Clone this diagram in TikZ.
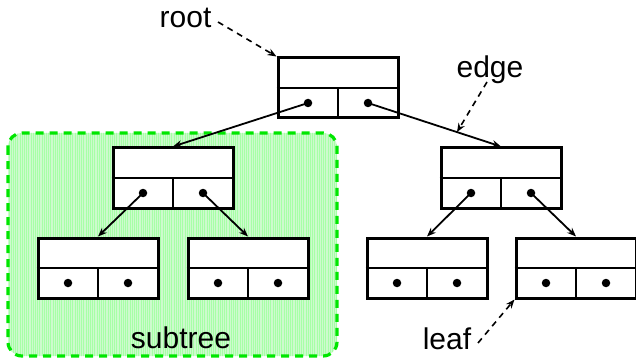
\documentclass[tikz,border=0pt]{standalone}
\usepackage{fontspec}
\setmainfont{Liberation Sans}
\usetikzlibrary{arrows.meta,patterns.meta,calc}
\definecolor{subgreen}{RGB}{0,230,0}
\definecolor{subfill}{RGB}{205,250,205}
\begin{document}
\begin{tikzpicture}[x=1pt,y=-1pt,
  cell/.style={draw,line width=3pt,minimum width=120pt,minimum height=60pt,inner sep=0pt,fill=white},
  divider/.style={line width=2pt},
  dotnode/.style={fill=black,circle,inner sep=0pt,minimum size=8.5pt},
  link/.style={line width=1.8pt,-{Stealth[length=9pt,width=7pt]}},
  callout/.style={line width=1.6pt,dash pattern=on 6pt off 5pt,-{Stealth[length=9pt,width=7pt]}},
  lbl/.style={font=\fontsize{30}{36}\selectfont,inner sep=0pt,anchor=base}]
\useasboundingbox (0,0) rectangle (636,358);
% subtree region
\fill[subfill,rounded corners=14pt] (8,133) rectangle (337,356);
\fill[pattern={Lines[angle=90,distance=2.2pt,line width=0.6pt]},pattern color=green!35,rounded corners=14pt] (8,133) rectangle (337,356);
\draw[subgreen,line width=3.2pt,dash pattern=on 8pt off 6pt,rounded corners=14pt] (8,133) rectangle (337,356);
% boxes
\node[cell] (root) at (338,88) {};
\node[cell] (L) at (173,178) {};
\node[cell] (R) at (501,178) {};
\node[cell] (LL) at (98,268) {};
\node[cell] (LR) at (248,268) {};
\node[cell] (RL) at (427,268) {};
\node[cell] (RR) at (576,268) {};
\foreach \b in {root,L,R,LL,LR,RL,RR}{
  \draw[divider] (\b.west) -- (\b.east);
  \draw[divider] (\b.center) -- (\b.south);
  \node[dotnode] (\b-l) at ($(\b.center)+(-30,15)$) {};
  \node[dotnode] (\b-r) at ($(\b.center)+(30,15)$) {};
}
% edges
\draw[link] (root-l.center) -- (L.north);
\draw[link] (root-r.center) -- (R.north);
\draw[link] (L-l.center) -- (LL.north);
\draw[link] (L-r.center) -- (LR.north);
\draw[link] (R-l.center) -- (RL.north);
\draw[link] (R-r.center) -- (RR.north);
\path (root-r.center) -- (R.north) coordinate[pos=0.669] (edgept);
% labels
\node[lbl] (rootlbl) at (185.5,28) {root};
\node[lbl] (edgelbl) at (490,78) {edge};
\node[lbl] (subtreelbl) at (181,348) {subtree};
\node[lbl] (leaflbl) at (447,349) {leaf};
\coordinate (rootstart) at (218,22);
\coordinate (edgestart) at (487,82);
\coordinate (leafstart) at (478,343);
\draw[callout] (rootstart) -- (root.north west);
\draw[callout] (edgestart) -- (edgept);
\draw[callout] (leafstart) -- (RR.south west);
\end{tikzpicture}
\end{document}
